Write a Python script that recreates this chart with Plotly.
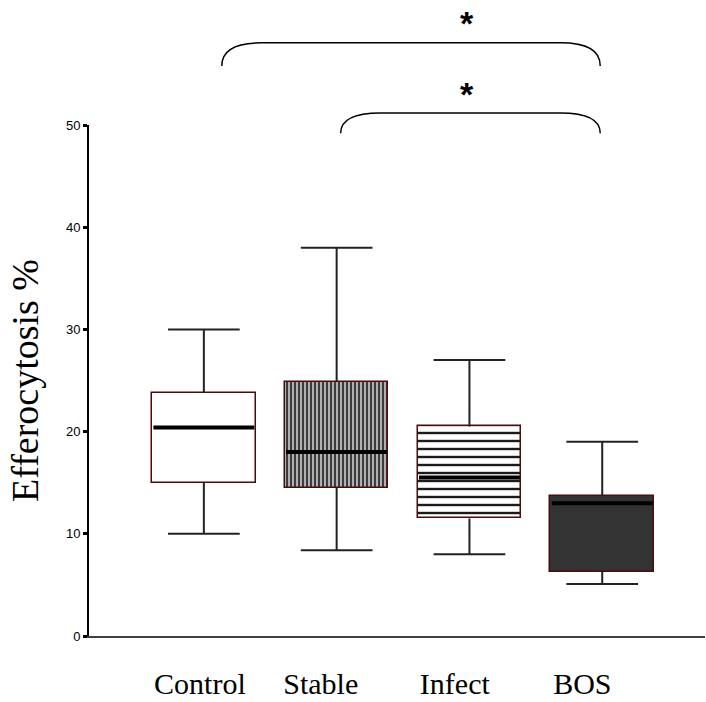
import plotly.graph_objects as go

groups = ["Control", "Stable", "Infect", "BOS"]
lower = [10.0, 8.4, 8.0, 5.1]
q1 = [15.0, 14.5, 11.5, 6.3]
median = [20.4, 18.0, 15.5, 13.0]
q3 = [23.8, 24.9, 20.5, 13.7]
upper = [30.0, 38.0, 27.0, 19.0]
y_ticks = [0, 10, 20, 30, 40, 50]
label_offsets = [-0.03, -0.12, -0.11, -0.15]

idx = list(range(len(groups)))
BOX_W = 0.78
CAP_W = 0.54

styles = [
    dict(color="white"),
    dict(color="#bdbdbd", pattern=dict(shape="|", fgcolor="#3c3c3c", bgcolor="#bdbdbd",
                                       size=4, solidity=0.55, fillmode="replace")),
    dict(color="white", pattern=dict(shape="-", fgcolor="#1a1a1a", bgcolor="white",
                                     size=8, solidity=0.3, fillmode="replace")),
    dict(color="#333333"),
]

fig = go.Figure()

for i in idx:
    fig.add_trace(go.Bar(
        x=[i], base=[q1[i]], y=[q3[i] - q1[i]], width=BOX_W,
        marker=dict(line=dict(color="#4a0d0d", width=1.5), **styles[i]),
        showlegend=False, hoverinfo="skip"))

wx, wy = [], []
for i in idx:
    wx += [i, i, None, i, i, None]
    wy += [q3[i], upper[i], None, q1[i], lower[i], None]
fig.add_trace(go.Scatter(x=wx, y=wy, mode="lines", line=dict(color="#222222", width=2),
                         showlegend=False, hoverinfo="skip"))

cx, cy = [], []
for i in idx:
    cx += [i - CAP_W / 2, i + CAP_W / 2, None, i - CAP_W / 2, i + CAP_W / 2, None]
    cy += [upper[i], upper[i], None, lower[i], lower[i], None]
fig.add_trace(go.Scatter(x=cx, y=cy, mode="lines", line=dict(color="#222222", width=2),
                         showlegend=False, hoverinfo="skip"))

mx, my = [], []
for i in idx:
    mx += [i - BOX_W / 2 + 0.01, i + BOX_W / 2 - 0.01, None]
    my += [median[i], median[i], None]
fig.add_trace(go.Scatter(x=mx, y=my, mode="lines", line=dict(color="black", width=4),
                         showlegend=False, hoverinfo="skip"))

# significance brackets (Control-BOS, Stable-BOS)
def bracket(a, b, ybot, ytop):
    r = 0.3
    return (f"M {a},{ybot} Q {a},{ytop} {a + r},{ytop} L {b - r},{ytop} "
            f"Q {b},{ytop} {b},{ybot}")

for a, b, ybot, ytop, ystar in [(0.135, 2.985, 1.1157, 1.1608, 1.199),
                                (1.03, 2.985, 0.984, 1.0235, 1.060)]:
    fig.add_shape(type="path", path=bracket(a, b, ybot, ytop),
                  xref="x", yref="paper", line=dict(color="black", width=1.5))
    fig.add_annotation(x=1.985, y=ystar, xref="x", yref="paper",
                       text="<b>*</b>", showarrow=False,
                       font=dict(family="Arial", size=34, color="black"), yanchor="middle")

fig.update_layout(
    width=706, height=702,
    margin=dict(l=89, r=1, t=125, b=66),
    plot_bgcolor="white", paper_bgcolor="white",
    bargap=0, barmode="overlay",
    xaxis=dict(range=[-0.865, 3.774], showgrid=False, zeroline=False,
               showline=True, linecolor="#404040", linewidth=2,
               tickmode="array", tickvals=[i + o for i, o in zip(idx, label_offsets)],
               ticktext=groups, ticks="", ticklabelstandoff=20,
               tickfont=dict(family="Liberation Serif", size=30, color="black")),
    yaxis=dict(range=[0, 50], showgrid=False, zeroline=False,
               showline=True, linecolor="black", linewidth=2,
               tickmode="array", tickvals=y_ticks, ticks="outside", ticklen=4, tickwidth=3,
               tickcolor="black",
               tickfont=dict(family="Arial", size=13, color="black"),
               title=dict(text="Efferocytosis %", standoff=16,
                          font=dict(family="Liberation Serif", size=38, color="black"))),
)

fig.write_html("out.html")
